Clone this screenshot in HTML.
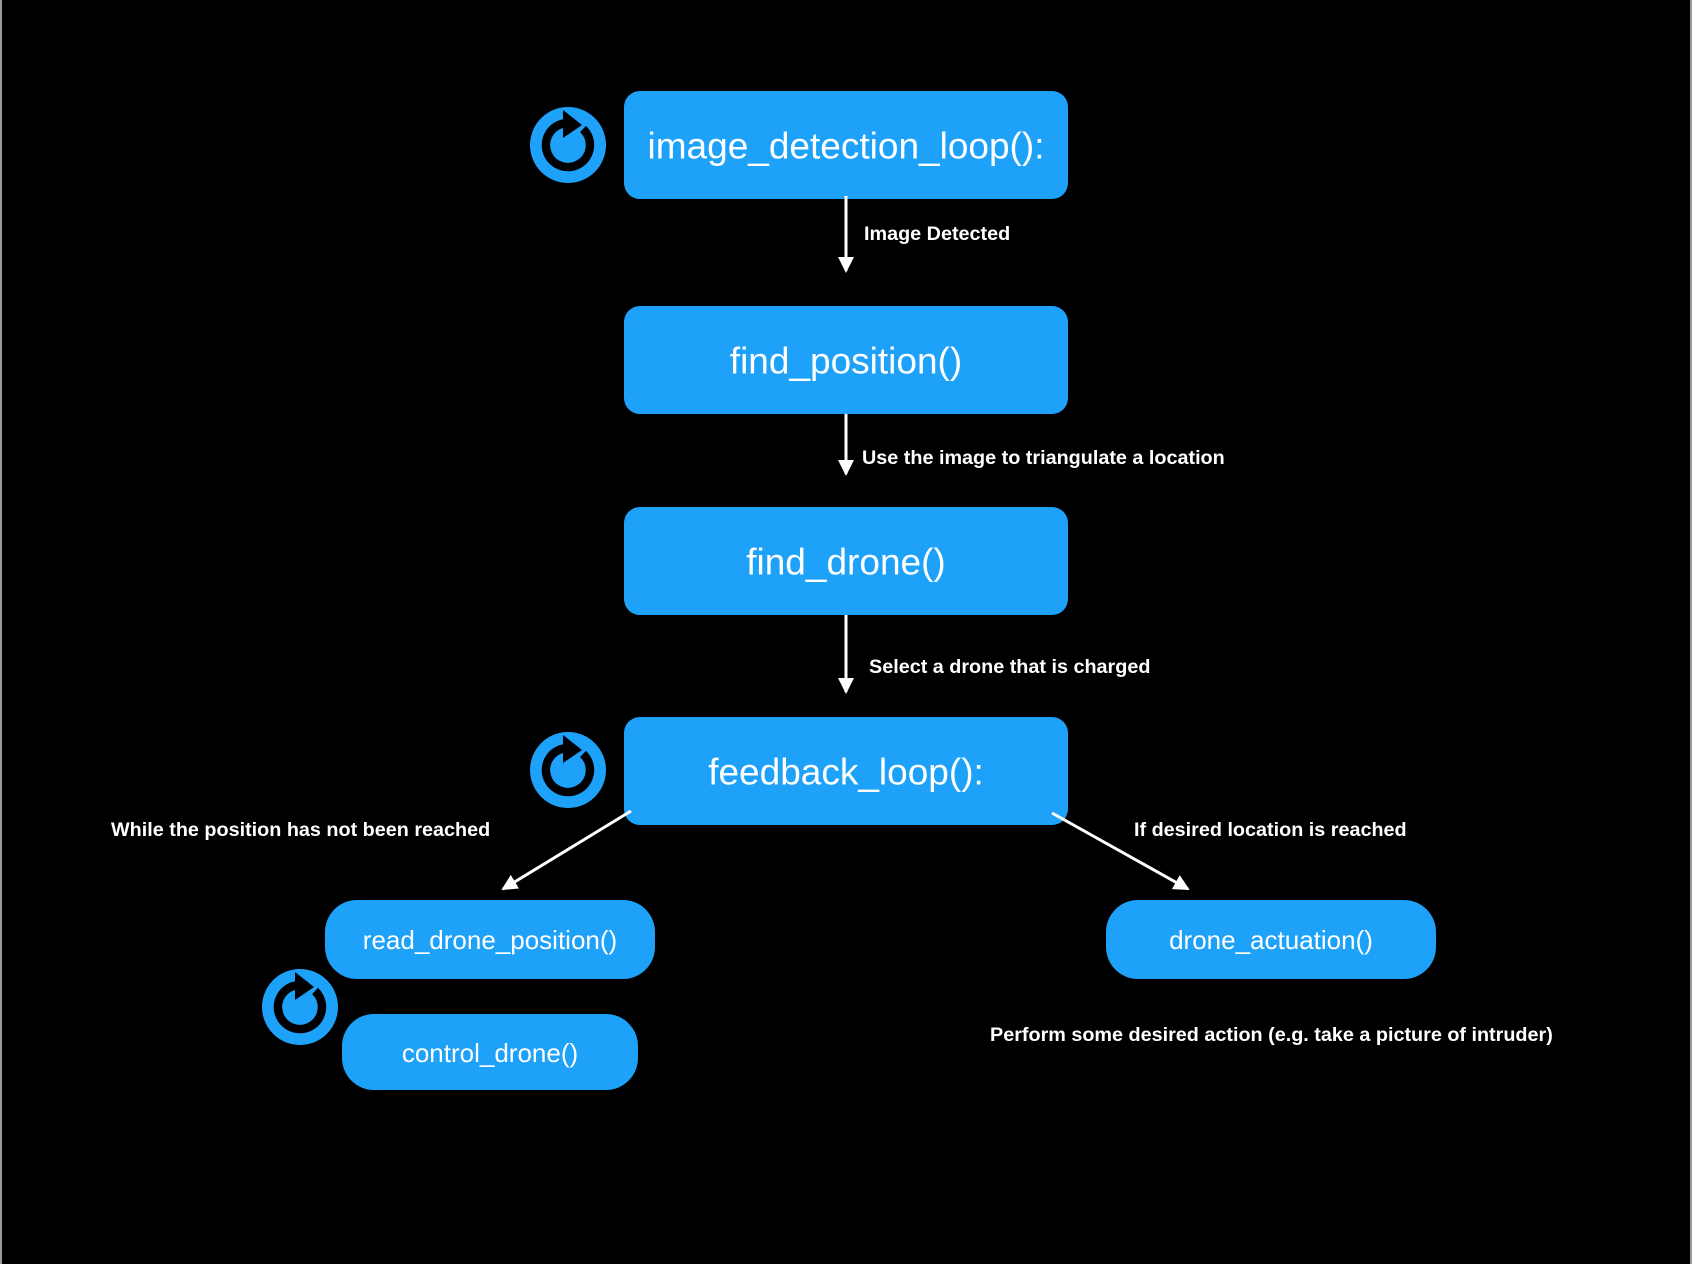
<!DOCTYPE html>
<html><head><style>
body{margin:0;background:#000;}
svg{display:block}
text{font-family:"Liberation Sans",Arial,sans-serif;}
.b{fill:#1da1f9}
.t{fill:#fff;text-anchor:middle;dominant-baseline:central}
.l{fill:#fff;font-weight:bold;font-size:19.8px;dominant-baseline:central}
</style></head><body>
<svg width="1692" height="1264" viewBox="0 0 1692 1264">
<rect width="1692" height="1264" fill="#000"/>
<rect x="0" y="0" width="2" height="1264" fill="#9a9a9a"/>
<rect x="1690" y="0" width="2" height="1264" fill="#9a9a9a"/>
<defs>
<g id="ic">
<circle r="38" fill="#1da1f9"/>
<path d="M 15 -16 A 22 22 0 1 1 -4 -21.6" fill="none" stroke="#000" stroke-width="8.5"/>
<polygon points="-5,-35 14,-20 -5,-7" fill="#000"/>
</g>
<marker id="ah" markerWidth="16" markerHeight="16" refX="14" refY="8" orient="auto" markerUnits="userSpaceOnUse" viewBox="0 0 16 16">
<polygon points="0,0 16,8 0,16" fill="#fff"/></marker>
</defs>
<use href="#ic" x="568" y="145"/>
<use href="#ic" x="568" y="770"/>
<use href="#ic" x="300" y="1007"/>
<rect class="b" x="624" y="91" width="444" height="108" rx="16"/>
<text class="t" x="846" y="146" font-size="37">image_detection_loop():</text>
<rect class="b" x="624" y="306" width="444" height="108" rx="16"/>
<text class="t" x="846" y="361" font-size="37">find_position()</text>
<rect class="b" x="624" y="507" width="444" height="108" rx="16"/>
<text class="t" x="846" y="562" font-size="37">find_drone()</text>
<rect class="b" x="624" y="717" width="444" height="108" rx="16"/>
<text class="t" x="846" y="772" font-size="37">feedback_loop():</text>
<rect class="b" x="325" y="900" width="330" height="79" rx="32"/>
<text class="t" x="490" y="940" font-size="26">read_drone_position()</text>
<rect class="b" x="342" y="1014" width="296" height="76" rx="32"/>
<text class="t" x="490" y="1053" font-size="26">control_drone()</text>
<rect class="b" x="1106" y="900" width="330" height="79" rx="32"/>
<text class="t" x="1271" y="940" font-size="26">drone_actuation()</text>
<g stroke="#fff" stroke-width="3">
<line x1="846" y1="196" x2="846" y2="271" marker-end="url(#ah)"/>
<line x1="846" y1="414" x2="846" y2="474" marker-end="url(#ah)"/>
<line x1="846" y1="615" x2="846" y2="692" marker-end="url(#ah)"/>
<line x1="631" y1="811" x2="503" y2="889" marker-end="url(#ah)"/>
<line x1="1052" y1="813" x2="1188" y2="889" marker-end="url(#ah)"/>
</g>
<text class="l" x="864" y="234">Image Detected</text>
<text class="l" x="862" y="458">Use the image to triangulate a location</text>
<text class="l" x="869" y="667">Select a drone that is charged</text>
<text class="l" x="111" y="830">While the position has not been reached</text>
<text class="l" x="1134" y="830">If desired location is reached</text>
<text class="l" x="990" y="1035">Perform some desired action (e.g. take a picture of intruder)</text>
</svg>
</body></html>
